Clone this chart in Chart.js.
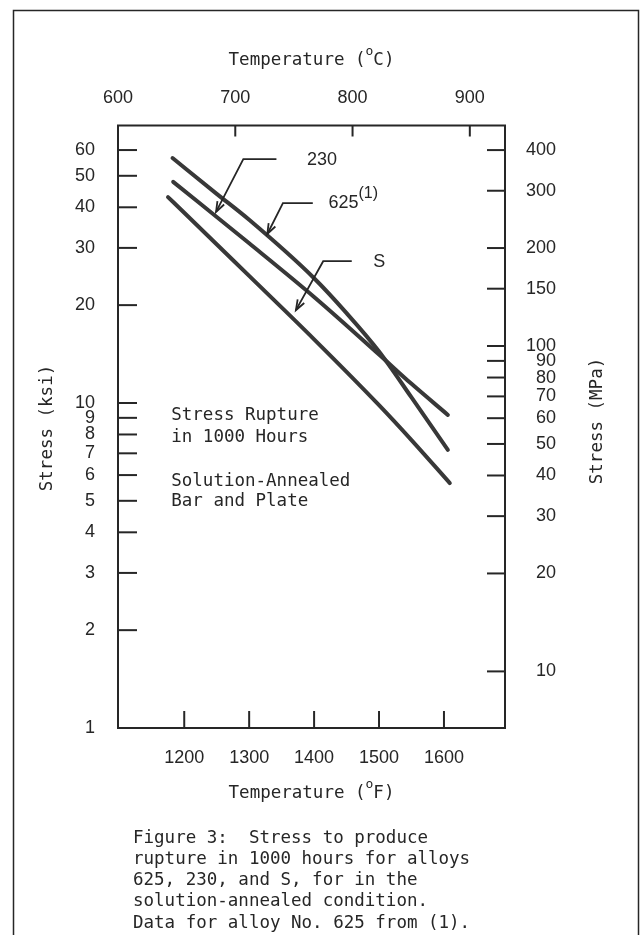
<!DOCTYPE html>
<html>
<head>
<meta charset="utf-8">
<script src="https://cdn.jsdelivr.net/npm/chart.js@4.4.1/dist/chart.umd.min.js"></script>
<style>
  html, body { margin: 0; padding: 0; background: #fff; }
  canvas { display: block; }
</style>
</head>
<body>
<canvas id="chart" width="643" height="935"></canvas>
<script>
// temperature in deg F, stress in ksi
const tempS = [1175, 1200, 1300, 1400, 1500, 1550, 1609];
const stressS = [43.0, 38.5, 24.6, 15.7, 9.85, 7.69, 5.67];
const temp625 = [1182, 1250, 1300, 1400, 1450, 1500, 1550, 1606];
const stress625 = [56.7, 44.0, 36.6, 24.2, 18.9, 14.4, 10.4, 7.17];
const temp230 = [1183, 1300, 1400, 1500, 1550, 1606];
const stress230 = [47.9, 31.0, 21.2, 14.1, 11.45, 9.19];

const ticksF = [1200, 1300, 1400, 1500, 1600];
const ticksC = [600, 700, 800, 900];
const ticksKsi = [1, 2, 3, 4, 5, 6, 7, 8, 9, 10, 20, 30, 40, 50, 60];
const ticksMPa = [10, 20, 30, 40, 50, 60, 70, 80, 90, 100, 150, 200, 300, 400];

const ink = '#262626';
const mono = "'DejaVu Sans Mono', 'Liberation Mono', monospace";
const sans = "'Liberation Sans', Arial, sans-serif";

// leader arrows: tip on the curve, elbow, end of the flat part, label spot (deg F, ksi)
const leaders = [
  { tip: [1249, 38.7], elbow: [1291, 56.3], end: [1342, 56.3], at: [1389, 55.9], text: '230', sup: '' },
  { tip: [1328, 33.1], elbow: [1352, 41.2], end: [1398, 41.2], at: [1422, 41.2], text: '625', sup: '(1)' },
  { tip: [1372, 19.3], elbow: [1414, 27.3], end: [1458, 27.3], at: [1491, 27.2], text: 'S', sup: '' }
];

const notes = [
  ['Stress Rupture', 1180, 9.18],
  ['in 1000 Hours', 1180, 7.86],
  ['Solution-Annealed', 1180, 5.72],
  ['Bar and Plate', 1180, 4.96]
];

const caption = [
  'Figure 3:  Stress to produce',
  'rupture in 1000 hours for alloys',
  '625, 230, and S, for in the',
  'solution-annealed condition.',
  'Data for alloy No. 625 from (1).'
];

function pts(xs, ys) {
  return xs.map((x, i) => ({ x: x, y: ys[i] }));
}

function line(ctx, x1, y1, x2, y2) {
  ctx.beginPath();
  ctx.moveTo(x1, y1);
  ctx.lineTo(x2, y2);
  ctx.stroke();
}

// draw text pieces in a row, some of them raised
function parts(ctx, list, x, y, align) {
  let w = 0;
  list.forEach(p => { ctx.font = p.f; w += ctx.measureText(p.t).width; });
  let cx = align === 'center' ? x - w / 2 : x;
  ctx.textAlign = 'left';
  ctx.textBaseline = 'middle';
  list.forEach(p => {
    ctx.font = p.f;
    ctx.fillText(p.t, cx, y - (p.dy || 0));
    cx += ctx.measureText(p.t).width;
  });
}

function degTitle(unit) {
  return [
    { t: 'Temperature (', f: '17.5px ' + mono },
    { t: 'o', f: '13px ' + mono, dy: 8 },
    { t: unit + ')', f: '17.5px ' + mono }
  ];
}

const decor = {
  id: 'decor',
  afterDraw(chart) {
    const { ctx, chartArea: a, scales } = chart;
    const sx = scales.x, sy = scales.y, sc = scales.xc, sm = scales.y2;
    ctx.save();
    ctx.strokeStyle = ink;
    ctx.fillStyle = ink;

    // page frame
    ctx.lineWidth = 1.5;
    ctx.strokeRect(13.5, 10.5, 625, 980);

    // plot box
    ctx.lineWidth = 2;
    ctx.strokeRect(a.left, a.top, a.right - a.left, a.bottom - a.top);

    // ticks pointing inwards
    ticksKsi.forEach(v => { const y = sy.getPixelForValue(v); line(ctx, a.left, y, a.left + 19, y); });
    ticksMPa.forEach(v => { const y = sm.getPixelForValue(v); line(ctx, a.right - 18, y, a.right, y); });
    ticksF.forEach(v => { const x = sx.getPixelForValue(v); line(ctx, x, a.bottom, x, a.bottom - 17); });
    ticksC.forEach(v => {
      const x = sc.getPixelForValue(v);
      if (x > a.left + 3) line(ctx, x, a.top, x, a.top + 11);
    });

    // leaders with arrow heads
    ctx.lineWidth = 1.8;
    leaders.forEach(l => {
      const tx = sx.getPixelForValue(l.tip[0]), ty = sy.getPixelForValue(l.tip[1]);
      const ex = sx.getPixelForValue(l.elbow[0]), ey = sy.getPixelForValue(l.elbow[1]);
      const fx = sx.getPixelForValue(l.end[0]);
      ctx.beginPath();
      ctx.moveTo(fx, ey);
      ctx.lineTo(ex, ey);
      ctx.lineTo(tx, ty);
      ctx.stroke();
      const ang = Math.atan2(ey - ty, ex - tx);
      ctx.beginPath();
      ctx.moveTo(tx + 11 * Math.cos(ang + 0.35), ty + 11 * Math.sin(ang + 0.35));
      ctx.lineTo(tx, ty);
      ctx.lineTo(tx + 11 * Math.cos(ang - 0.35), ty + 11 * Math.sin(ang - 0.35));
      ctx.stroke();
      const list = [{ t: l.text, f: '18px ' + sans }];
      if (l.sup) list.push({ t: l.sup, f: '16px ' + sans, dy: 10 });
      parts(ctx, list, sx.getPixelForValue(l.at[0]), sy.getPixelForValue(l.at[1]), 'left');
    });

    // notes inside the plot
    ctx.font = '17.5px ' + mono;
    ctx.textAlign = 'left';
    ctx.textBaseline = 'middle';
    notes.forEach(n => ctx.fillText(n[0], sx.getPixelForValue(n[1]), sy.getPixelForValue(n[2])));

    // axis titles
    const mid = (a.left + a.right) / 2;
    parts(ctx, degTitle('C'), mid, 60, 'center');
    parts(ctx, degTitle('F'), mid, 793, 'center');

    ctx.font = '17.5px ' + mono;
    ctx.textAlign = 'center';
    ctx.textBaseline = 'middle';
    ctx.save();
    ctx.translate(47, 428);
    ctx.rotate(-Math.PI / 2);
    ctx.fillText('Stress (ksi)', 0, 0);
    ctx.restore();
    ctx.save();
    ctx.translate(597, 421);
    ctx.rotate(-Math.PI / 2);
    ctx.fillText('Stress (MPa)', 0, 0);
    ctx.restore();

    // caption
    ctx.textAlign = 'left';
    caption.forEach((c, i) => ctx.fillText(c, 133, 838 + i * 21.3));
    ctx.restore();
  }
};

const tickFont = { family: sans, size: 18 };
const curve = (label, xs, ys) => ({
  label: label,
  data: pts(xs, ys),
  borderColor: '#383838',
  borderWidth: 4,
  borderCapStyle: 'round',
  pointRadius: 0,
  cubicInterpolationMode: 'monotone',
  fill: false
});

new Chart(document.getElementById('chart'), {
  type: 'line',
  data: {
    datasets: [
      curve('625', temp625, stress625),
      curve('230', temp230, stress230),
      curve('S', tempS, stressS)
    ]
  },
  options: {
    responsive: false,
    animation: false,
    devicePixelRatio: 1,
    layout: { padding: { left: 0, top: 0, bottom: 0, right: 87 } },
    plugins: { legend: { display: false }, tooltip: { enabled: false }, title: { display: false } },
    scales: {
      x: {
        type: 'linear', position: 'bottom', min: 1098, max: 1694,
        afterBuildTicks: s => { s.ticks = ticksF.map(v => ({ value: v })); },
        afterFit: s => { s.height = 207; },
        grid: { display: false }, border: { display: false },
        ticks: { font: tickFont, color: ink, padding: 11, autoSkip: false, maxRotation: 0, callback: v => v }
      },
      xc: {
        type: 'linear', position: 'top', min: 600, max: 930,
        afterBuildTicks: s => { s.ticks = ticksC.map(v => ({ value: v })); },
        afterFit: s => { s.height = 125.5; },
        grid: { display: false }, border: { display: false },
        ticks: { font: tickFont, color: ink, padding: 9, autoSkip: false, maxRotation: 0, callback: v => v }
      },
      y: {
        type: 'logarithmic', position: 'left', min: 1, max: 71.4,
        afterBuildTicks: s => { s.ticks = ticksKsi.map(v => ({ value: v })); },
        afterFit: s => { s.width = 118; },
        grid: { display: false }, border: { display: false },
        ticks: { font: tickFont, color: ink, padding: 15, autoSkip: false, callback: v => v }
      },
      y2: {
        type: 'logarithmic', position: 'right', min: 6.7, max: 476,
        afterBuildTicks: s => { s.ticks = ticksMPa.map(v => ({ value: v })); },
        afterFit: s => { s.width = 51; },
        grid: { display: false }, border: { display: false },
        ticks: { font: tickFont, color: ink, padding: 19, crossAlign: 'far', autoSkip: false, callback: v => v }
      }
    }
  },
  plugins: [decor]
});
</script>
</body>
</html>
